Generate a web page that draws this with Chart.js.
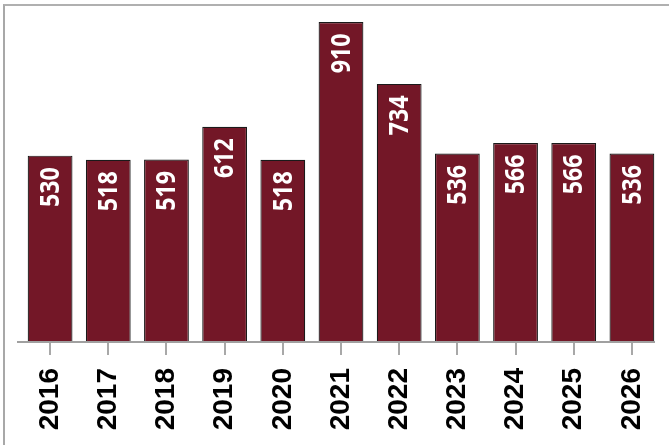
<!DOCTYPE html>
<html>
<head>
<meta charset="utf-8">
<script src="https://cdn.jsdelivr.net/npm/chart.js@4.4.1/dist/chart.umd.min.js"></script>
<style>
  body { margin: 0; background: #fff; }
  #wrap { position: relative; width: 669px; height: 445px; }
  #frame {
    position: absolute; left: 3px; top: 4px; right: 0; bottom: 0;
    border-left: 2px solid #a8a8a8; border-top: 2px solid #b0b0b0;
  }
  #myChart { position: absolute; left: 0; top: 0; }
</style>
</head>
<body>
<div id="wrap">
  <div id="frame"></div>
  <canvas id="myChart" width="669" height="445"></canvas>
</div>
<script>
/*==== data ====*/
const years = ['2016', '2017', '2018', '2019', '2020', '2021', '2022', '2023', '2024', '2025', '2026'];
const counts = [530, 518, 519, 612, 518, 910, 734, 536, 566, 566, 536];

/*==== value labels inside the bars, rotated ====*/
const barValues = {
    id: 'barValues',
    afterDatasetsDraw(chart) {
        const ctx = chart.ctx;
        const meta = chart.getDatasetMeta(0);
        const area = chart.chartArea;

        // baseline, a bit shifted to the left of the category band
        ctx.save();
        ctx.strokeStyle = '#a0a0a0';
        ctx.lineWidth = 2;
        ctx.beginPath();
        ctx.moveTo(area.left - 4, area.bottom);
        ctx.lineTo(area.right - 6, area.bottom);
        ctx.stroke();
        ctx.restore();

        ctx.save();
        ctx.fillStyle = '#ffffff';
        ctx.font = 'bold 27px "Open Sans", sans-serif';
        ctx.textAlign = 'right';
        ctx.textBaseline = 'middle';
        meta.data.forEach(function (bar, i) {
            ctx.save();
            ctx.translate(bar.x, bar.y + 11.5);
            ctx.rotate(-Math.PI / 2);
            ctx.scale(0.86, 1);
            ctx.fillText(String(counts[i]), 0, 1);
            ctx.restore();
        });
        ctx.restore();
    }
};

/*==== config ====*/
const config = {
    type: 'bar',
    data: {
        labels: years,
        datasets: [{
            data: counts,
            backgroundColor: '#731727',
            borderColor: '#1a1a1a',
            borderWidth: 1.2,
            barPercentage: 0.77,
            categoryPercentage: 1
        }]
    },
    options: {
        responsive: false,
        animation: false,
        layout: { padding: { left: 21, right: 8, top: 22, bottom: 0 } },
        plugins: {
            legend: { display: false },
            tooltip: { enabled: false }
        },
        scales: {
            x: {
                afterFit(scale) {
                    scale.height = 103;
                    scale.paddingLeft = 0;
                    scale.paddingRight = 0;
                },
                border: { display: false },
                grid: {
                    offset: false,
                    drawOnChartArea: false,
                    drawTicks: true,
                    tickLength: 13,
                    color: '#a8a8a8',
                    lineWidth: 2
                },
                ticks: {
                    minRotation: 90,
                    maxRotation: 90,
                    padding: 13,
                    color: '#000',
                    font: { family: '"Liberation Sans", Arial, sans-serif', size: 28, weight: 'bold' }
                }
            },
            y: {
                display: false,
                min: 0,
                max: 910
            }
        }
    },
    plugins: [barValues]
};

/*===== render =====*/
const myChart = new Chart(document.getElementById('myChart'), config);
</script>
</body>
</html>
